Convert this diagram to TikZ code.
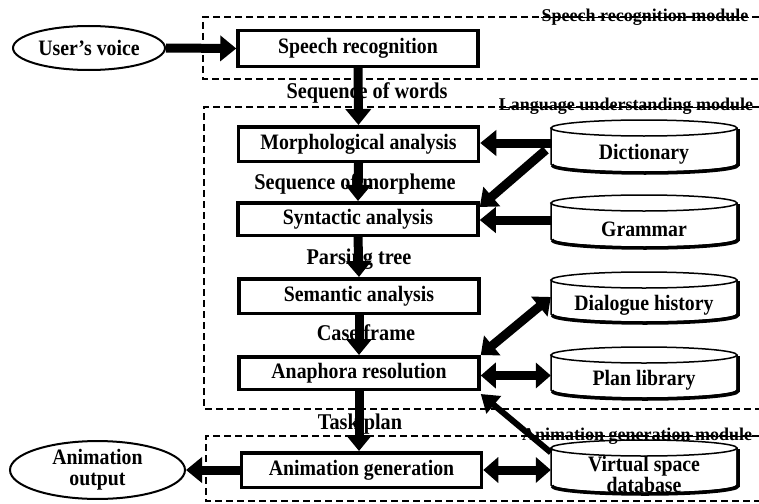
\documentclass[tikz,border=0pt]{standalone}
\usepackage{fontspec}
\setmainfont{Liberation Serif}
\newfontfamily\bxfont{Liberation Serif}[FakeStretch=0.9]
\usetikzlibrary{arrows.meta,shapes.geometric}
\tikzset{
  x=1pt, y=-1pt,
  proc/.style={draw, line width=3.5pt, minimum width=240pt, inner sep=0pt,
    font=\bxfont\bfseries\fontsize{22}{24}\selectfont},
  flowlab/.style={inner sep=0pt, font=\bxfont\bfseries\fontsize{22.5}{24}\selectfont},
  modlab/.style={inner sep=0pt, anchor=base, font=\bfseries\fontsize{18}{20}\selectfont},
  modbox/.style={line width=1.3pt, dash pattern=on 7pt off 4pt},
  term/.style={ellipse, draw, line width=2pt, inner sep=0pt, align=center,
    font=\bxfont\bfseries\fontsize{22}{21}\selectfont},
  db/.style={inner sep=0pt, minimum width=186pt, align=center,
    font=\bxfont\bfseries\fontsize{22}{17}\selectfont},
  fatarrow/.style={line width=9pt, -{Triangle[length=16pt,width=25pt]}},
  thinarrow/.style={line width=6pt, -{Triangle[length=17pt,width=22pt]}},
  fatdouble/.style={line width=9pt, {Triangle[length=15pt,width=25pt]}-{Triangle[length=15pt,width=25pt]}},
  cylthin/.style={line width=1.5pt},
  cylthick/.style={line width=3.5pt},
}
\newcommand\dbcyl[4]{%
  \pgfmathsetmacro\cyc{(#2+16+#3)/2}%
  \pgfmathsetmacro\cyh{#3-#2-16}%
  \draw[cylthin] (644,#2+8) ellipse [x radius=93pt, y radius=8pt];
  \draw[cylthin] (551,#2+8) -- (551,#3-8) arc[start angle=180, end angle=360, x radius=93pt, y radius=8pt] -- (737,#2+8);
  \draw[cylthick] (738,#2+9) -- (738,#3-7) arc[start angle=0, end angle=-180, x radius=93pt, y radius=8pt];
  \node[db, minimum height=\cyh pt] (#1) at (644,\cyc) {#4};
}
\begin{document}
\begin{tikzpicture}
\useasboundingbox (0,0) rectangle (759,503);

% module frames
\draw[modbox] (759,17) -- (203,17) -- (203,79) -- (759,79);
\draw[modbox] (759,107) -- (204,107) -- (204,409) -- (759,409);
\draw[modbox] (759,436) -- (206,436) -- (206,501) -- (759,501);
\node[modlab] (lsr) at (645,22) {Speech recognition module};
\node[modlab] (llu) at (626,110) {Language understanding module};
\node[modlab] (lag) at (637,440) {Animation generation module};
\draw[line width=0.8pt] (lsr.west |- 0,17) -- (lsr.east |- 0,17);
\draw[line width=0.8pt] (llu.west |- 0,107) -- (llu.east |- 0,107);
\draw[line width=0.8pt] (lag.west |- 0,436) -- (lag.east |- 0,436);

% process boxes
\node[proc, minimum height=35.5pt] (speech) at (358,48.5) {Speech recognition};
\node[proc, minimum height=34.5pt] (morph) at (358.5,144) {Morphological analysis};
\node[proc, minimum height=32.5pt] (synt) at (358,219) {Syntactic analysis};
\node[proc, minimum height=34.5pt] (sem) at (359,296) {Semantic analysis};
\node[proc, minimum height=32.5pt] (anaph) at (359,373) {Anaphora resolution};
\node[proc, minimum height=34.5pt] (animgen) at (361.5,470) {Animation generation};

% terminals
\node[term, minimum width=152pt, minimum height=44pt] (user) at (89,48) {User’s voice};
\node[term, minimum width=175pt, minimum height=56pt] (animout) at (97.5,470) {Animation\\output};

% databases
\dbcyl{dict}{120}{172}{Dictionary}
\dbcyl{gram}{195}{247}{Grammar}
\dbcyl{dial}{272}{322}{Dialogue history}
\dbcyl{plan}{347}{398}{Plan library}
\dbcyl{virt}{440}{493}{Virtual space\\database}

% flow labels
\node[flowlab] (l1) at (367,93) {Sequence of words};
\node[flowlab] (l2) at (355,184) {Sequence of morpheme};
\node[flowlab] (l3) at (359,259) {Parsing tree};
\node[flowlab] (l4) at (366,333) {Case frame};
\node[flowlab] (l5) at (360,424) {Task plan};

% main flow
\draw[fatarrow] (user.east) -- (speech.west);
\draw[fatarrow] (speech.south) -- (morph.north);
\draw[fatarrow] (morph.south) -- (synt.north);
\draw[fatarrow] (synt.south) -- (sem.north);
\draw[fatarrow] (sem.south) -- (anaph.north);
\draw[fatarrow] (anaph.south) -- (anaph.south |- animgen.north);
\draw[fatarrow] (animgen.west) -- (animout.east);

% database links
\coordinate (dictout) at ([yshift=11pt]dict.west);
\coordinate (dictdiag) at ([shift={(-5pt,4pt)}]dict.west);
\coordinate (gramout) at ([yshift=9pt]gram.west);
\coordinate (dialout) at ([yshift=8pt]dial.west);
\coordinate (planout) at ([yshift=5pt]plan.west);
\coordinate (virtout) at ([yshift=22pt]virt.west);
\draw[fatarrow] (dictout) -- (dictout -| morph.east);
\draw[fatarrow] (dictdiag) -- ([yshift=-6pt]synt.north east);
\draw[fatarrow] (gramout) -- (gramout -| synt.east);
\draw[fatdouble] (dialout) -- (anaph.north east);
\draw[fatdouble] (planout) -- (planout -| anaph.east);
\draw[thinarrow] (virtout) -- ([yshift=-3pt]anaph.south east);
\draw[fatdouble] (animgen.east) -- (animgen.east -| virt.west);
\end{tikzpicture}
\end{document}
